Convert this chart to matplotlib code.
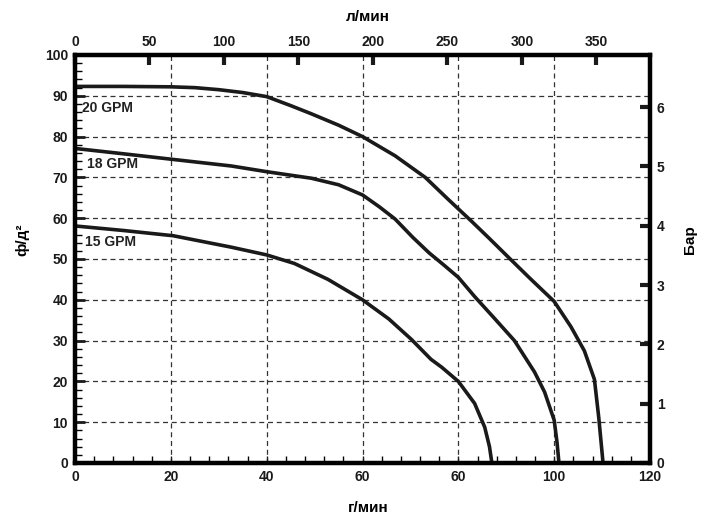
import matplotlib
matplotlib.use("Agg")
import matplotlib.pyplot as plt
from matplotlib.ticker import MultipleLocator

plt.rcParams['font.family'] = ['Liberation Sans', 'DejaVu Sans']
plt.rcParams['font.weight'] = 'bold'

# flow (gpm) vs pressure (psi)
gpm_20 = [0, 10, 20, 25, 30, 35, 40, 45, 49.3, 55, 60, 66.8, 73.1, 77.9, 82.8, 86.5, 90.3,
          95, 100, 103.5, 106.3, 108.4, 109.3, 109.8, 110.2]
psi_20 = [92.3, 92.3, 92.2, 92.0, 91.5, 90.8, 89.8, 87.6, 85.6, 82.8, 80, 75.3, 70, 64.6, 59.2, 55.0, 50.6,
          45.2, 39.6, 33.4, 27.5, 20.5, 11.2, 5, 0]

gpm_18 = [0, 10, 20.5, 32.6, 40, 49.3, 55, 60, 63.5, 66.8, 70.5, 73.9, 77, 80, 83.4, 87.5,
          91.7, 95.9, 98, 100, 100.6, 101]
psi_18 = [77.1, 75.8, 74.4, 72.8, 71.4, 69.8, 68.2, 65.7, 62.8, 59.8, 55.3, 51.5, 48.5, 45.5, 40.8, 35.5,
          30, 22.3, 17.4, 10.5, 5, 0]

gpm_15 = [0, 10, 20.5, 32.6, 40, 45.8, 52.8, 60, 65.5, 70.2, 74.3, 76.5, 80, 83.4, 85.5, 86.5, 87]
psi_15 = [58.1, 57, 55.7, 52.9, 51, 48.9, 45, 40, 35.3, 30.3, 25.4, 23.5, 20, 14.6, 8.8, 4, 0]

curve_labels = ["20 GPM", "18 GPM", "15 GPM"]
label_pos = [(1.5, 87.0), (2.5, 73.2), (2.0, 54.2)]

bottom_ticks = [0, 20, 40, 60, 80, 100, 120]
bottom_labels = ["0", "20", "40", "60", "60", "100", "120"]
top_ticks = [0, 50, 100, 150, 200, 250, 300, 350]
bar_ticks = [0, 1, 2, 3, 4, 5, 6]

fig = plt.figure(figsize=(7.05, 5.2), dpi=100)
ax = fig.add_axes([75 / 705, 1 - 463 / 520, 575 / 705, 408 / 520])

for xs, ys in [(gpm_20, psi_20), (gpm_18, psi_18), (gpm_15, psi_15)]:
    ax.plot(xs, ys, color='#1a1a1a', lw=2.6, solid_capstyle='butt',
            solid_joinstyle='round', zorder=3)

for txt, (x, y) in zip(curve_labels, label_pos):
    ax.text(x, y, txt, fontsize=10, fontweight='bold', color='#222222', va='center', ha='left')

ax.set_xlim(0, 120)
ax.set_ylim(0, 100)
ax.set_xticks(bottom_ticks)
ax.set_xticklabels(bottom_labels)
ax.xaxis.set_minor_locator(MultipleLocator(4))
ax.set_yticks(range(0, 101, 10))
ax.yaxis.set_minor_locator(MultipleLocator(2))
ax.grid(True, which='major', linestyle=(0, (4, 3)), color='#333333', lw=0.9)
ax.tick_params(axis='both', which='major', direction='in', labelsize=10, colors='#1a1a1a', pad=5)
ax.tick_params(axis='x', which='major', length=5, width=1)
ax.tick_params(axis='y', which='major', length=7, width=2)
ax.tick_params(axis='both', which='minor', direction='in', length=5, width=1)
for s in ax.spines.values():
    s.set_linewidth(3)

axt = ax.twiny()
axt.set_xlim(0, 386)
axt.set_xticks(top_ticks)
axt.tick_params(axis='x', direction='in', length=7, width=3, labelsize=10, colors='#1a1a1a', pad=4)

axr = ax.twinx()
axr.set_ylim(0, 6.88)
axr.set_yticks(bar_ticks)
axr.tick_params(axis='y', direction='in', length=7, width=3, labelsize=10, colors='#1a1a1a', pad=5)

for a in (axt, axr):
    for s in a.spines.values():
        s.set_linewidth(3)

fig.text(368 / 705, 1 - 17 / 520, "л/мин", ha='center', va='center', fontsize=11, fontweight='bold')
fig.text(368 / 705, 1 - 508 / 520, "г/мин", ha='center', va='center', fontsize=11, fontweight='bold')
fig.text(22 / 705, 1 - 240 / 520, "ф/д²", ha='center', va='center', rotation=90, fontsize=11, fontweight='bold')
fig.text(690 / 705, 1 - 240 / 520, "Бар", ha='center', va='center', rotation=90, fontsize=11, fontweight='bold')

fig.savefig("out.png", dpi=100)
